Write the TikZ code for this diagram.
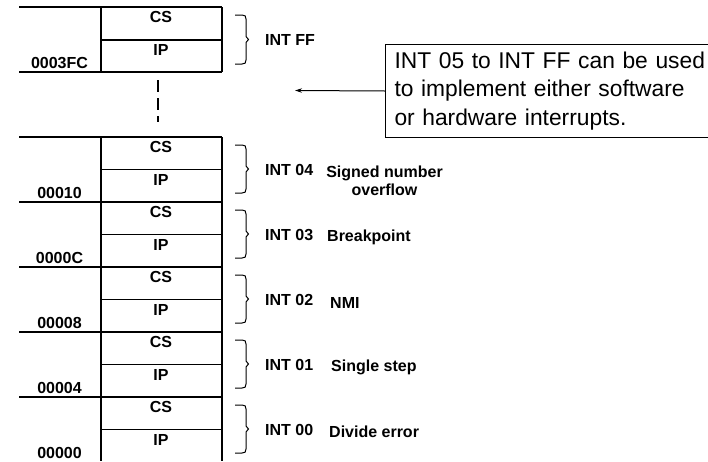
\documentclass[tikz,border=0pt]{standalone}
\usepackage{fontspec}
\setmainfont{Liberation Sans}
\usetikzlibrary{arrows.meta}
\newcommand\intbrace[2]{%
  \pgfmathsetmacro\bA{#1}\pgfmathsetmacro\bB{#2}\pgfmathsetmacro\bM{(#1+#2)/2}%
  \draw[bracestyle] (235,\bA) -- (242,\bA) .. controls (245,\bA) and (246,\bA+1) .. (246,\bA+4)
    -- (246,\bM-3) -- (248.5,\bM) -- (246,\bM+3) -- (246,\bB-4)
    .. controls (246,\bB-1) and (245,\bB) .. (242,\bB) -- (235,\bB);%
}
\begin{document}
\begin{tikzpicture}[x=1pt,y=-1pt,
  rule/.style={line width=1.1pt},
  bold/.style={font=\fontsize{16}{18}\selectfont\bfseries, inner sep=0pt},
  bracestyle/.style={line width=1pt},
  intlbl/.style={bold, anchor=west}]
\useasboundingbox (0,0) rectangle (708,461);
% top block (INT FF)
\draw[rule] (19,7) -- (222,7) (101,40) -- (222,40) (19,72) -- (222,72)
            (101,7) -- (101,72) (222,7) -- (222,72);
\node[bold] (csFF) at (161,17) {CS};
\node[bold] (ipFF) at (161,50) {IP};
\node[bold] (adFF) at (59.5,63) {0003FC};
\intbrace{15}{64}
\node[intlbl] (intFF) at (265,40) {INT FF};
% gap
\draw[line width=2pt, dash pattern=on 12pt off 6pt] (158,80) -- (158,122);
% lower blocks
\draw[rule] (101,137) -- (101,461) (222,137) -- (222,461);
\foreach \t/\ad/\nm [count=\i] in {137/00010/INT 04,202/0000C/INT 03,267/00008/INT 02,332/00004/INT 01,397/00000/INT 00} {
  \draw[rule] (19,\t) -- (222,\t) (101,\t+32.5) -- (222,\t+32.5);
  \node[bold] (cs\i) at (161,\t+10) {CS};
  \node[bold] (ip\i) at (161,\t+42.5) {IP};
  \node[bold] (ad\i) at (59.5,\t+56) {\ad};
  \intbrace{\t+8}{\t+56}
  \node[intlbl] (int\i) at (265,\t+33) {\nm};
}
\node[bold, align=center] (d1) at (384.5,181) {Signed number\\overflow};
\node[intlbl] (d2) at (327,237) {Breakpoint};
\node[intlbl] (d3) at (330,303) {NMI};
\node[intlbl] (d4) at (331,367) {Single step};
\node[intlbl] (d5) at (329,432) {Divide error};
% callout
\node[draw, line width=1pt, anchor=north west, minimum height=93pt, text width=330pt,
      inner xsep=9pt, inner ysep=0pt, align=left, font=\fontsize{22.8}{28.5}\selectfont]
  (note) at (385,44) {INT 05 to INT FF can be used\\to implement either software\\or hardware interrupts.};
\coordinate (tip) at (295,90.5);
\draw[line width=1pt, -{Stealth[length=7pt,width=4.5pt]}] (note.west) -- (tip);
\end{tikzpicture}
\end{document}
